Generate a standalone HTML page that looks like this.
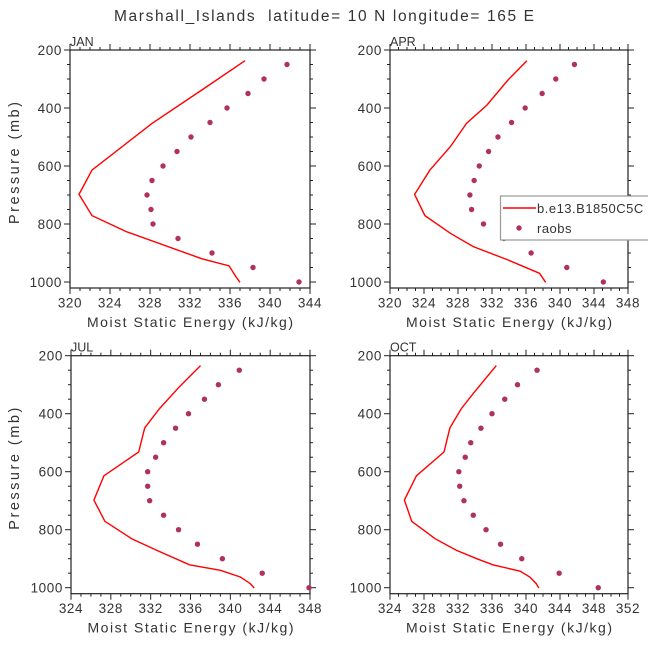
<!DOCTYPE html>
<html><head><meta charset="utf-8"><style>
body{margin:0;background:#fff}
svg text{font-family:"Liberation Sans",sans-serif;fill:#333}
</style></head><body>
<svg id="chart" width="648" height="648" viewBox="0 0 648 648" xmlns="http://www.w3.org/2000/svg">
<text x="324" y="21" font-size="15.5" text-anchor="middle" textLength="420" lengthAdjust="spacing" xml:space="preserve">Marshall_Islands  latitude= 10 N longitude= 165 E</text>
</svg>
<script>
const levels = [250,300,350,400,450,500,550,600,650,700,750,800,850,900,950,1000];
const janModelP = [237,326,453,614,698,771,826,920,944,982,1001];
const janModelE = [337.5,333.7,328.2,322.2,320.9,322.2,325.6,333.2,335.9,336.6,337];
const janObs = [341.7,339.4,337.8,335.7,334.0,332.1,330.7,329.3,328.2,327.7,328.1,328.3,330.8,334.2,338.3,342.9];
const aprModelP = [237,303,390,453,533,614,698,771,832,878,924,944,970,1001];
const aprModelE = [336.1,333.9,331.4,329.0,327.1,324.7,322.9,324.1,327.1,329.8,333.9,335.5,337.6,338.3];
const aprObs = [341.7,339.5,337.9,335.9,334.3,332.7,331.6,330.5,329.9,329.4,329.6,331.0,333.4,336.6,340.8,345.1];
const julModelP = [234,307,382,449,532,614,698,771,831,871,921,940,963,986,1001];
const julModelE = [337.0,334.9,332.9,331.4,330.8,327.3,326.3,327.4,330.1,332.6,335.9,339.0,341.0,342.0,342.4];
const julObs = [340.9,338.8,337.4,335.8,334.5,333.3,332.5,331.7,331.7,331.9,333.3,334.8,336.7,339.2,343.2,347.9];
const octModelP = [234,330,382,449,532,614,698,771,831,871,900,921,943,963,986,1001];
const octModelE = [336.5,333.8,332.4,331.05,330.35,327.1,325.7,326.55,329.3,331.8,334.2,336.1,339.3,340.45,341.2,341.5];
const octObs = [341.3,339.0,337.5,336.0,334.7,333.5,332.85,332.1,332.2,332.7,333.8,335.3,337.0,339.5,343.9,348.5];
const pTicks = [200,400,600,800,1000];

const NS="http://www.w3.org/2000/svg";
const svg=document.getElementById('chart');
function mk(tag,attrs,parent){const e=document.createElementNS(NS,tag);for(const k in attrs)e.setAttribute(k,attrs[k]);(parent||svg).appendChild(e);return e;}

const panels=[
 {name:'jan',label:'JAN',x0:70,x1:310,top:50,xmin:320,xmax:344,mp:janModelP,me:janModelE,obs:janObs,ylab:true},
 {name:'apr',label:'APR',x0:390,x1:628,top:50,xmin:320,xmax:348,mp:aprModelP,me:aprModelE,obs:aprObs,ylab:false},
 {name:'jul',label:'JUL',x0:71,x1:310,top:355.7,xmin:324,xmax:348,mp:julModelP,me:julModelE,obs:julObs,ylab:true},
 {name:'oct',label:'OCT',x0:390,x1:628,top:355.7,xmin:324,xmax:352,mp:octModelP,me:octModelE,obs:octObs,ylab:false}
];
const PS=0.29;
panels.forEach(P=>{
 const g=mk('g',{});
 
 
 const xs=v=>P.x0+(v-P.xmin)*(P.x1-P.x0)/(P.xmax-P.xmin);
 const ys=p=>P.top+(p-200)*PS;
 const bot=P.top+238;
 const tk=mk('g',{stroke:'#222','stroke-width':1},g);
 
 
 for(let v=P.xmin;v<=P.xmax;v++){
  const maj=(v-P.xmin)%4===0, L=maj?6:3, x=xs(v);
  mk('line',{x1:x,x2:x,y1:P.top,y2:P.top-L},tk);
  mk('line',{x1:x,x2:x,y1:bot,y2:bot+L},tk);
  if(maj){const t=mk('text',{x:x,y:bot+19.5,'font-size':13.5,'text-anchor':'middle','letter-spacing':0.6},g);t.textContent=v;
   
   }
 }
 for(let p=200;p<=1000;p+=50){
  const maj=p%200===0, L=maj?6:3, y=ys(p);
  mk('line',{x1:P.x0,x2:P.x0-L,y1:y,y2:y},tk);
  mk('line',{x1:P.x1,x2:P.x1+L,y1:y,y2:y},tk);
 }
 pTicks.forEach(p=>{const t=mk('text',{x:P.x0-8,y:ys(p)+5,'font-size':13.5,'text-anchor':'end','letter-spacing':0.6},g);t.textContent=p;
  
  });
 const box=mk('rect',{x:P.x0,y:P.top,width:P.x1-P.x0,height:238,fill:'none',stroke:'#222','stroke-width':1.2},g);
 
 
 const lab=mk('text',{x:P.x0,y:P.top-4,'font-size':12.5},g);lab.textContent=P.label;
 
 
 const xl=mk('text',{x:(P.x0+P.x1)/2,y:bot+39,'font-size':14,'text-anchor':'middle',textLength:206,lengthAdjust:'spacing'},g);xl.textContent='Moist Static Energy (kJ/kg)';
 
 
 if(P.ylab){const yl=mk('text',{x:0,y:0,'font-size':14.5,'text-anchor':'middle',textLength:122,lengthAdjust:'spacing',transform:`translate(19,${P.top+113}) rotate(-90)`},g);yl.textContent='Pressure (mb)';
  
  }
 const pts=P.me.map((v,i)=>xs(v).toFixed(1)+','+ys(P.mp[i]).toFixed(1)).join(' ');
 const ln=mk('polyline',{points:pts,fill:'none',stroke:'#ff0000','stroke-width':1.4},g);
 
 
 P.obs.forEach((v,i)=>{const c=mk('circle',{cx:xs(v),cy:ys(levels[i]),r:2.7,fill:'#b0305e'},g);
  
  });
});
const lg=mk('g',{});


mk('rect',{x:500.5,y:196,width:160,height:44,fill:'#fff',stroke:'#999','stroke-width':1.2},lg);
mk('line',{x1:503,x2:536,y1:208,y2:208,stroke:'#ff0000','stroke-width':1.4},lg);
const l1=mk('text',{x:537,y:213,'font-size':13,'letter-spacing':0.5},lg);l1.textContent='b.e13.B1850C5C';


mk('circle',{cx:519,cy:228,r:2.7,fill:'#b0305e'},lg);
const l2=mk('text',{x:537,y:233,'font-size':13,'letter-spacing':0.5},lg);l2.textContent='raobs';


</script>
</body></html>
